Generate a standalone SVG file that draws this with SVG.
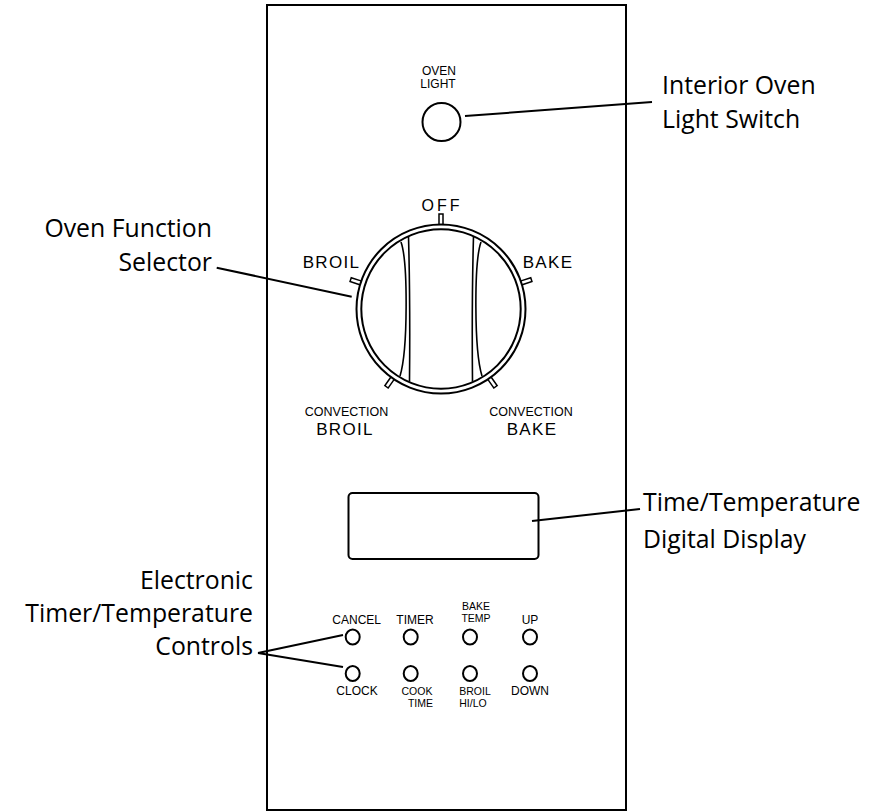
<svg xmlns="http://www.w3.org/2000/svg" width="888" height="812" viewBox="0 0 888 812">
<style>
.ln{fill:none;stroke:#000;stroke-width:2}
.thin{fill:none;stroke:#000;stroke-width:1.6}
.lbl{font-family:"Open Sans","Liberation Sans",sans-serif;font-size:24.8px;fill:#000}
.ps{font-family:"Liberation Sans","Open Sans",sans-serif;fill:#000;text-anchor:middle}
.big{font-size:17px;letter-spacing:1.3px}
.sm{font-size:12.5px}
.ol{font-size:12px}
.btn{font-size:12px}
.btn2{font-size:10.5px}
.tick{fill:#fff;stroke:#000;stroke-width:1.5}
</style>
<rect width="888" height="812" fill="#fff"/>
<g id="panel"><rect class="ln" x="267" y="5" width="359" height="805"/></g>
<g id="oven-light">
<text class="ps ol" x="439" y="74.5">OVEN</text>
<text class="ps ol" x="438" y="88">LIGHT</text>
<circle class="ln" cx="441.5" cy="122" r="19"/>
</g>
<g id="selector">
<g class="tick">
<rect x="439" y="214" width="4" height="11" transform="rotate(0 441 309)"/>
<rect x="439" y="214" width="4" height="11" transform="rotate(72 441 309)"/>
<rect x="439" y="214" width="4" height="11" transform="rotate(145 441 309)"/>
<rect x="439" y="214" width="4" height="11" transform="rotate(-145 441 309)"/>
<rect x="439" y="214" width="4" height="11" transform="rotate(-72 441 309)"/>
</g>
<circle cx="441" cy="309" r="84.5" fill="#fff" stroke="#000" stroke-width="2"/>
<circle class="ln" cx="441" cy="309" r="79.7"/>
<path class="thin" d="M408.5 236.5 C410 290 410 330 409.5 381.5"/>
<path class="thin" d="M401 242 C408 262 408 350 400 376"/>
<path class="thin" d="M473.5 236.5 C472 290 472 330 472.5 381.5"/>
<path class="thin" d="M481 242 C474 262 474 350 482 376"/>
<text class="ps" x="442" y="211" style="font-size:16px;letter-spacing:3px">OFF</text>
<text class="ps big" x="331.5" y="268">BROIL</text>
<text class="ps big" x="548" y="268">BAKE</text>
<text class="ps sm" x="346.5" y="416">CONVECTION</text>
<text class="ps big" x="345" y="435">BROIL</text>
<text class="ps sm" x="531" y="416">CONVECTION</text>
<text class="ps big" x="532" y="435">BAKE</text>
</g>
<g id="display"><rect class="ln" x="348.5" y="493" width="190" height="66" rx="4"/></g>
<g id="buttons">
<g class="ln">
<ellipse cx="352.7" cy="637" rx="7" ry="7.5"/>
<ellipse cx="410.7" cy="637" rx="7" ry="7.5"/>
<ellipse cx="470" cy="637" rx="7" ry="7.5"/>
<ellipse cx="530" cy="637" rx="7" ry="7.5"/>
<ellipse cx="352.7" cy="673.5" rx="7" ry="7.5"/>
<ellipse cx="410.7" cy="673.5" rx="7" ry="7.5"/>
<ellipse cx="470" cy="673.5" rx="7" ry="7.5"/>
<ellipse cx="530" cy="673.5" rx="7" ry="7.5"/>
</g>
<text class="ps btn" x="356.7" y="623.5">CANCEL</text>
<text class="ps btn" x="415" y="623.5">TIMER</text>
<text class="ps btn2" x="476" y="609.8">BAKE</text>
<text class="ps btn2" x="476" y="621.8">TEMP</text>
<text class="ps btn" x="530" y="623.5">UP</text>
<text class="ps btn" x="357" y="694.5">CLOCK</text>
<text class="ps btn2" x="417" y="694.5">COOK</text>
<text class="ps btn2" x="420.5" y="706.5">TIME</text>
<text class="ps btn2" x="475" y="694.5">BROIL</text>
<text class="ps btn2" x="473" y="706.5">HI/LO</text>
<text class="ps btn" x="530" y="694.5">DOWN</text>
</g>
<g id="labels">
<text class="lbl" x="662" y="94">Interior Oven</text>
<text class="lbl" x="662" y="128">Light Switch</text>
<text class="lbl" x="212" y="236.5" text-anchor="end">Oven Function</text>
<text class="lbl" x="212" y="270.5" text-anchor="end">Selector</text>
<text class="lbl" x="643" y="511">Time/Temperature</text>
<text class="lbl" x="643" y="548">Digital Display</text>
<text class="lbl" x="253" y="589" text-anchor="end">Electronic</text>
<text class="lbl" x="253" y="622" text-anchor="end">Timer/Temperature</text>
<text class="lbl" x="253" y="655" text-anchor="end">Controls</text>
</g>
<g id="connectors" class="ln">
<line x1="465" y1="116" x2="652" y2="102"/>
<line x1="216.7" y1="267.7" x2="351.7" y2="296.7"/>
<line x1="532" y1="521" x2="640" y2="509"/>
<line x1="258" y1="653" x2="343" y2="635"/>
<line x1="258" y1="653" x2="343" y2="667"/>
</g>
</svg>
